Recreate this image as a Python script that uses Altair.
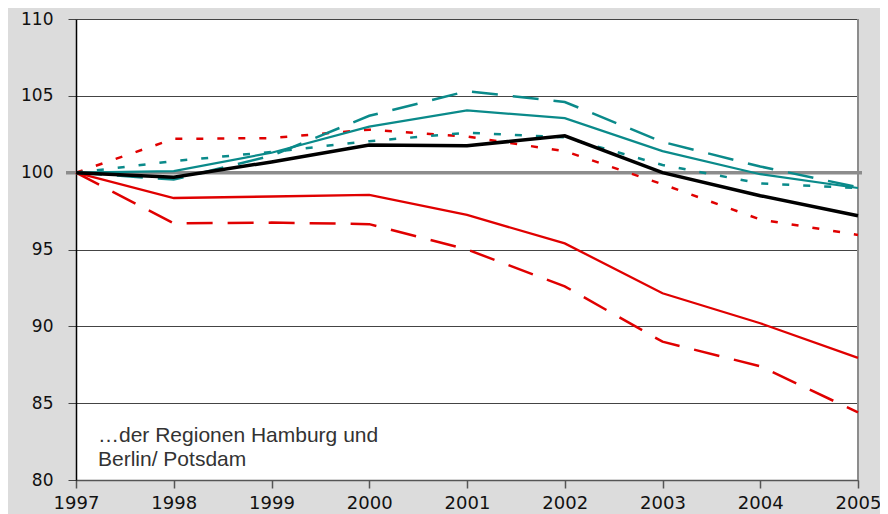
import altair as alt
import pandas as pd

years = [1997, 1998, 1999, 2000, 2001, 2002, 2003, 2004, 2005]

# index series (1997 = 100)
red_longdash = [100, 96.7, 96.75, 96.65, 95.0, 92.6, 89.0, 87.4, 84.4]
red_solid = [100, 98.35, 98.45, 98.55, 97.25, 95.4, 92.15, 90.2, 87.95]
red_shortdash = [100, 102.2, 102.25, 102.8, 102.35, 101.4, 99.25, 96.95, 95.95]
teal_shortdash = [100, 100.75, 101.35, 102.05, 102.6, 102.3, 100.5, 99.3, 99.0]
teal_longdash = [100, 99.55, 101.1, 103.7, 105.3, 104.6, 102.0, 100.4, 99.05]
teal_solid = [100, 100.1, 101.3, 103.0, 104.05, 103.55, 101.4, 99.9, 99.0]
black_solid = [100, 99.7, 100.7, 101.8, 101.75, 102.4, 100.0, 98.5, 97.2]

reference_level = [100]
y_ticks = [80, 85, 90, 95, 100, 105, 110]
note_lines = ["\u2026der Regionen Hamburg und", "Berlin/ Potsdam"]

RED = "#e00000"
TEAL = "#0a8a8a"

series = [
    (red_longdash, RED, 2.5, [26, 15]),
    (red_solid, RED, 2.3, None),
    (red_shortdash, RED, 2.5, [7, 14]),
    (teal_shortdash, TEAL, 2.5, [7, 14]),
    (teal_longdash, TEAL, 2.5, [26, 15]),
    (teal_solid, TEAL, 2.2, None),
    (black_solid, "#000000", 3.5, None),
]

PAD_TOP = 11
PLOT_W = 782
PLOT_H = 461

x_scale = alt.Scale(domain=[1997, 2005], nice=False, zero=False)
y_scale = alt.Scale(domain=[80, 110], nice=False, zero=False)

LABEL_FONT = "DejaVu Sans"

x_axis = alt.Axis(
    values=years, format="d", title=None, grid=False,
    domainColor="#555555", domainWidth=1.5,
    tickColor="#555555", tickWidth=1.5, tickSize=8,
    labelFont=LABEL_FONT, labelFontSize=18, labelColor="#111111",
    labelPadding=6, labelFlush=False, labelOverlap=False,
)
y_axis = alt.Axis(
    values=y_ticks, title=None, grid=True,
    gridColor="#444444", gridWidth=1,
    domainColor="#000000", domainWidth=1.5,
    tickColor="#444444", tickWidth=1, tickSize=8,
    labelFont=LABEL_FONT, labelFontSize=17, labelColor="#111111",
    labelPadding=15, labelOverlap=False,
)

X = alt.X("year:Q", scale=x_scale, axis=x_axis)
Y = alt.Y("value:Q", scale=y_scale, axis=y_axis)

layers = []

ref_df = pd.DataFrame({"value": reference_level})
layers.append(
    alt.Chart(ref_df).mark_rule(color="#8c8c8c", strokeWidth=3.5).encode(
        y=Y, x=alt.value(-10), x2=alt.value(PLOT_W + 4)
    )
)

layers.append(
    alt.Chart(ref_df).mark_rule(color="#8c8c8c", strokeWidth=2).encode(
        x=alt.value(PLOT_W), y=alt.value(0), y2=alt.value(PLOT_H)
    )
)

for vals, color, width, dash in series:
    df = pd.DataFrame({"year": years, "value": vals})
    kw = dict(color=color, strokeWidth=width, strokeCap="butt", strokeJoin="miter")
    if dash is not None:
        kw["strokeDash"] = dash
    layers.append(alt.Chart(df).mark_line(**kw).encode(x=X, y=Y))

for i, line in enumerate(note_lines):
    layers.append(
        alt.Chart(ref_df).mark_text(
            text=line, align="left", baseline="alphabetic",
            font="Liberation Sans", fontSize=21, color="#333333",
        ).encode(x=alt.value(22), y=alt.value(PLOT_H - 38 + 24 * i))
    )

chart = alt.layer(*layers).properties(
    width=PLOT_W,
    height=PLOT_H,
    autosize=alt.AutoSizeParams(type="none"),
    padding={"left": 68, "top": PAD_TOP, "right": 22, "bottom": 34},
    background="#dcdcdc",
).configure_view(fill="white", strokeWidth=0)

chart.save("out.html", embed_options={"renderer": "svg", "actions": False})
